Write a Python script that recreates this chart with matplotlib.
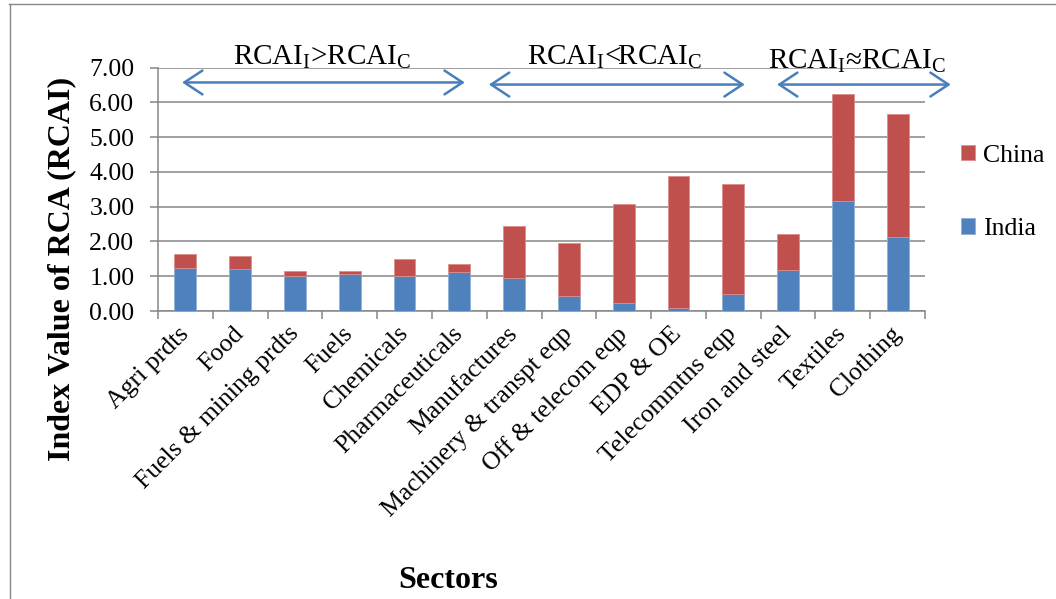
import numpy as np
import matplotlib
matplotlib.use('Agg')
import matplotlib.pyplot as plt
from matplotlib.lines import Line2D

plt.rcParams['font.family'] = ['Liberation Serif', 'DejaVu Serif']
plt.rcParams['mathtext.fontset'] = 'custom'
plt.rcParams['mathtext.rm'] = 'Liberation Serif'
plt.rcParams['mathtext.it'] = 'Liberation Serif:italic'

# sectors and RCA index values
sectors = ['Agri prdts', 'Food', 'Fuels & mining prdts', 'Fuels', 'Chemicals',
           'Pharmaceuticals', 'Manufactures', 'Machinery & transpt eqp',
           'Off & telecom eqp', 'EDP & OE', 'Telecommtns eqp', 'Iron and steel',
           'Textiles', 'Clothing']
india = [1.24, 1.20, 1.01, 1.06, 1.02, 1.13, 0.96, 0.44, 0.23, 0.09, 0.49, 1.18, 3.15, 2.12]
china = [0.39, 0.38, 0.14, 0.10, 0.48, 0.23, 1.49, 1.52, 2.84, 3.79, 3.16, 1.02, 3.10, 3.55]
yticks = [0, 1, 2, 3, 4, 5, 6, 7]

blue = '#4F81BD'
red = '#C0504D'
grey = '#868686'
fs = 18.5
fs_note = 21
fs_bold = 23

fig = plt.figure(figsize=(10.56, 5.99), dpi=100)
ax = fig.add_axes([158/1056, 1-311/599, 767/1056, 243.5/599])

x = np.arange(len(sectors))
ax.bar(x, india, width=0.4, color=blue, edgecolor='#8fb0d9', linewidth=0.6, label='India', zorder=3)
ax.bar(x, china, width=0.4, bottom=india, color=red, edgecolor='#dc8d8b', linewidth=0.6, label='China', zorder=3)

ax.set_xlim(-0.5, len(sectors) - 0.5)
ax.set_ylim(0, 7)
ax.set_yticks(yticks)
ax.set_yticklabels(['%.2f' % v for v in yticks], fontsize=fs)
ax.yaxis.grid(True, color=grey, linewidth=1.1, zorder=0)
ax.set_axisbelow(True)

ax.set_xticks(x)
ax.set_xticklabels(sectors, rotation=45, ha='right', va='center', rotation_mode='anchor', fontsize=fs)
ax.set_xticks(np.arange(len(sectors) + 1) - 0.5, minor=True)
ax.tick_params(axis='x', which='major', length=0, pad=14)
ax.tick_params(axis='x', which='minor', length=6, width=1.1, color=grey, direction='out')
ax.tick_params(axis='y', length=6, width=1.1, color=grey, pad=11)

for s in ['top', 'right']:
    ax.spines[s].set_visible(False)
for s in ['left', 'bottom']:
    ax.spines[s].set_color(grey)
    ax.spines[s].set_linewidth(1.1)

fig.text(62/1056, 1-269/599, 'Index Value of RCA (RCAI)', rotation=90, ha='center', va='center',
         fontsize=fs_bold, fontweight='bold')
fig.text(448/1056, 1-580/599, 'Sectors', ha='center', va='center', fontsize=fs_bold, fontweight='bold')

# group arrows with their labels
arrow_color = '#4A7EBB'
groups = [
    (-0.06, 5.10, 6.57, 2.49, 7.08, r'RCAI$_\mathregular{I}$>RCAI$_\mathregular{C}$'),
    (5.54, 10.21, 6.51, 7.84, 7.08, r'RCAI$_\mathregular{I}$<RCAI$_\mathregular{C}$'),
    (10.80, 13.97, 6.51, 12.26, 6.97, r'RCAI$_\mathregular{I}$≈RCAI$_\mathregular{C}$'),
]
for x0, x1, ya, xt, yt, label in groups:
    ax.annotate('', xy=(x1, ya), xytext=(x0, ya), annotation_clip=False,
                arrowprops=dict(arrowstyle='<->,head_length=0.65,head_width=0.43',
                                mutation_scale=20, color=arrow_color, lw=1.8,
                                shrinkA=0, shrinkB=0))
    ax.text(xt, yt, label, ha='center', va='baseline', fontsize=fs_note, clip_on=False)

handles, labels = ax.get_legend_handles_labels()
ax.legend(handles[::-1], labels[::-1], loc='center left', bbox_to_anchor=(961/1056, 1-192.5/599),
          bbox_transform=fig.transFigure, frameon=False, fontsize=fs, borderpad=0, borderaxespad=0,
          handlelength=0.55, handleheight=0.55, handletextpad=0.3, labelspacing=2.0)

# outer chart frame
fig.add_artist(Line2D([9/1056, 1], [1-3.5/599, 1-3.5/599], color=grey, lw=1.0))
fig.add_artist(Line2D([9.5/1056, 9.5/1056], [0, 1-3.5/599], color=grey, lw=1.0))

fig.savefig('out.png', dpi=100)
